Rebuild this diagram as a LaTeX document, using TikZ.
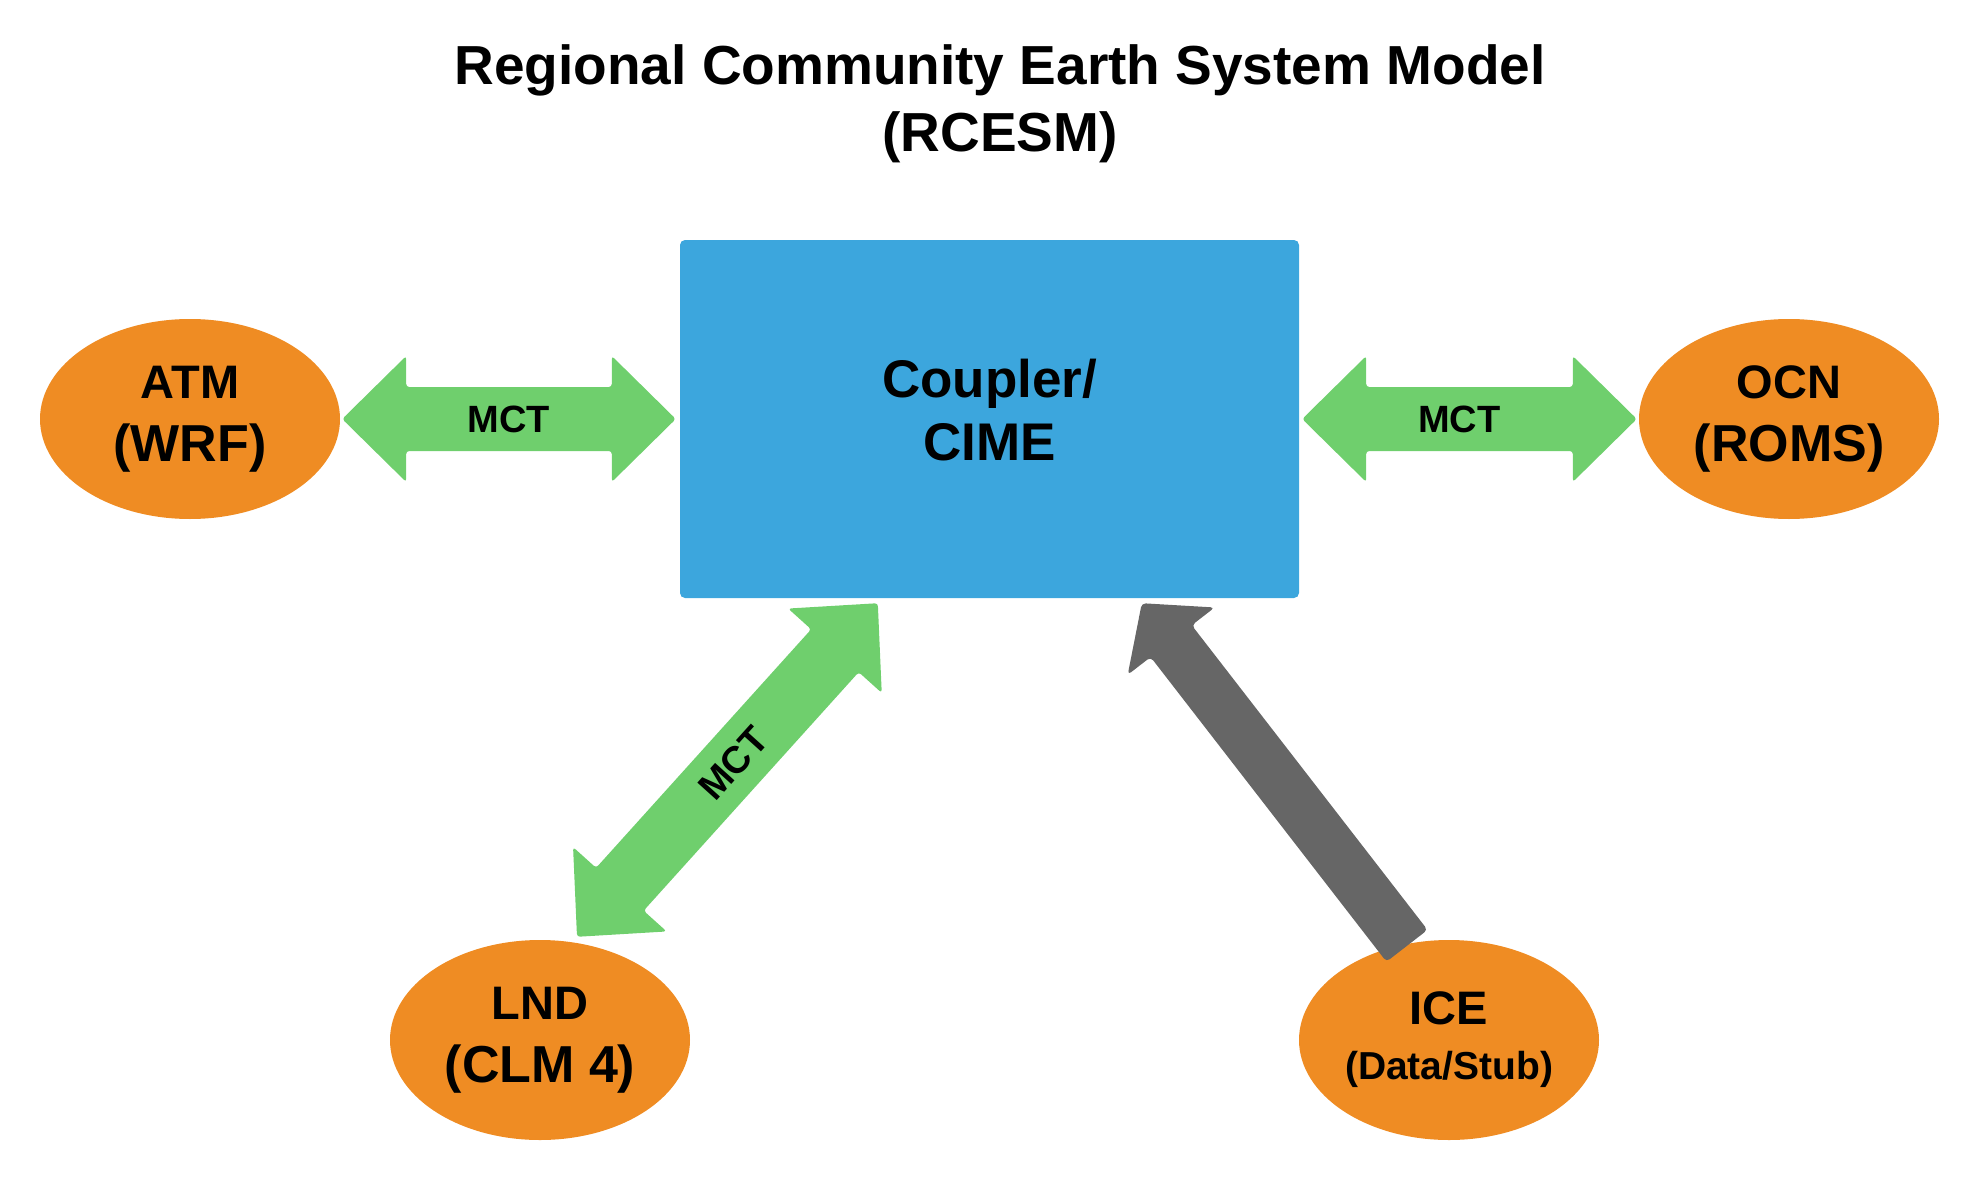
\documentclass[tikz,border=0pt]{standalone}
\usepackage{fontspec}
\setmainfont{Liberation Sans}
\usetikzlibrary{shapes.geometric,calc}

\definecolor{couplerblue}{HTML}{3CA6DD}
\definecolor{modelorange}{HTML}{EF8C23}
\definecolor{mctgreen}{HTML}{6FCF6D}
\definecolor{stubgray}{HTML}{666666}

\tikzset{
  model/.style={ellipse, fill=modelorange, minimum width=300pt, minimum height=200pt,
    inner sep=0pt, align=center, font=\bfseries\fontsize{47}{63}\selectfont},
  coupler/.style={rectangle, fill=couplerblue, rounded corners=5pt, minimum width=619pt,
    minimum height=358pt},
  couplertext/.style={align=center, font=\bfseries\fontsize{53}{63}\selectfont},
  linklabel/.style={font=\bfseries\fontsize{38}{40}\selectfont, inner sep=0pt}
}

% green two-way block arrow between two points
\newcommand{\mctarrow}[2]{%
  \fill[mctgreen, rounded corners=3pt] (#1)
    -- ($(#1)!64pt!(#2)!63pt!90:(#2)$) -- ($(#1)!64pt!(#2)!32pt!90:(#2)$)
    -- ($(#2)!64pt!(#1)!32pt!-90:(#1)$) -- ($(#2)!64pt!(#1)!63pt!-90:(#1)$)
    -- (#2)
    -- ($(#2)!64pt!(#1)!63pt!90:(#1)$) -- ($(#2)!64pt!(#1)!32pt!90:(#1)$)
    -- ($(#1)!64pt!(#2)!32pt!-90:(#2)$) -- ($(#1)!64pt!(#2)!63pt!-90:(#2)$)
    -- cycle;}

% grey one-way block arrow, #1 tail, #2 tip
\newcommand{\stubarrow}[2]{%
  \fill[stubgray, rounded corners=4pt] (#2)
    -- ($(#2)!48pt!(#1)!55pt!90:(#1)$) -- ($(#2)!48pt!(#1)!26pt!90:(#1)$)
    -- ($(#1)!26pt!-90:(#2)$) -- ($(#1)!26pt!90:(#2)$)
    -- ($(#2)!48pt!(#1)!26pt!-90:(#1)$) -- ($(#2)!48pt!(#1)!55pt!-90:(#1)$)
    -- cycle;}

\begin{document}
\begin{tikzpicture}[x=1pt, y=-1pt]
    \useasboundingbox (0,0) rectangle (1979,1180);

    % Title
    \node[align=center, font=\bfseries\fontsize{55}{67}\selectfont] (title) at (1000,104)
        {Regional Community Earth System Model\\(RCESM)};

    % Coupler box
    \node[coupler] (cpl) at (989.5,419) {};
    \node[couplertext] (cpllabel) at ($(cpl.center)+(0,-9)$) {Coupler/\\CIME};

    % Model components
    \node[model] (atm) at (190,419) {ATM\\\fontsize{52}{63}\selectfont (WRF)};
    \node[model] (ocn) at (1789,419) {OCN\\\fontsize{52}{63}\selectfont (ROMS)};
    \node[model] (lnd) at (540,1040) {LND\\\fontsize{52}{63}\selectfont (CLM 4)};
    \node[model, font=\bfseries\fontsize{47}{55}\selectfont] (ice) at (1449,1040)
        {ICE\\\fontsize{39}{55}\selectfont (Data/Stub)};

    % Arrow ends
    \coordinate (atmtip) at ($(atm.east)+(2,0)$);
    \coordinate (cplwest) at ($(cpl.west)+(-4,0)$);
    \coordinate (cpleast) at ($(cpl.east)+(3,0)$);
    \coordinate (ocntip) at ($(ocn.west)+(-2,0)$);
    \coordinate (lndtip) at ($(lnd.north)+(37,-3)$);
    \coordinate (cpllnd) at ($(cpl.south west)+(198,5)$);
    \coordinate (icetail) at ($(ice.north)+(-42,6)$);
    \coordinate (cplice) at ($(cpl.south west)+(462,5)$);

    % MCT links
    \mctarrow{atmtip}{cplwest}
    \mctarrow{cpleast}{ocntip}
    \mctarrow{lndtip}{cpllnd}
    \path (atmtip) -- (cplwest) node[linklabel, midway] (mctatm) {MCT};
    \path (cpleast) -- (ocntip) node[linklabel, pos=0.47] (mctocn) {MCT};
    \path (lndtip) -- (cpllnd) node[linklabel, pos=0.52, sloped] (mctlnd) {MCT};

    % Ice stub, one way
    \stubarrow{icetail}{cplice}
\end{tikzpicture}
\end{document}
